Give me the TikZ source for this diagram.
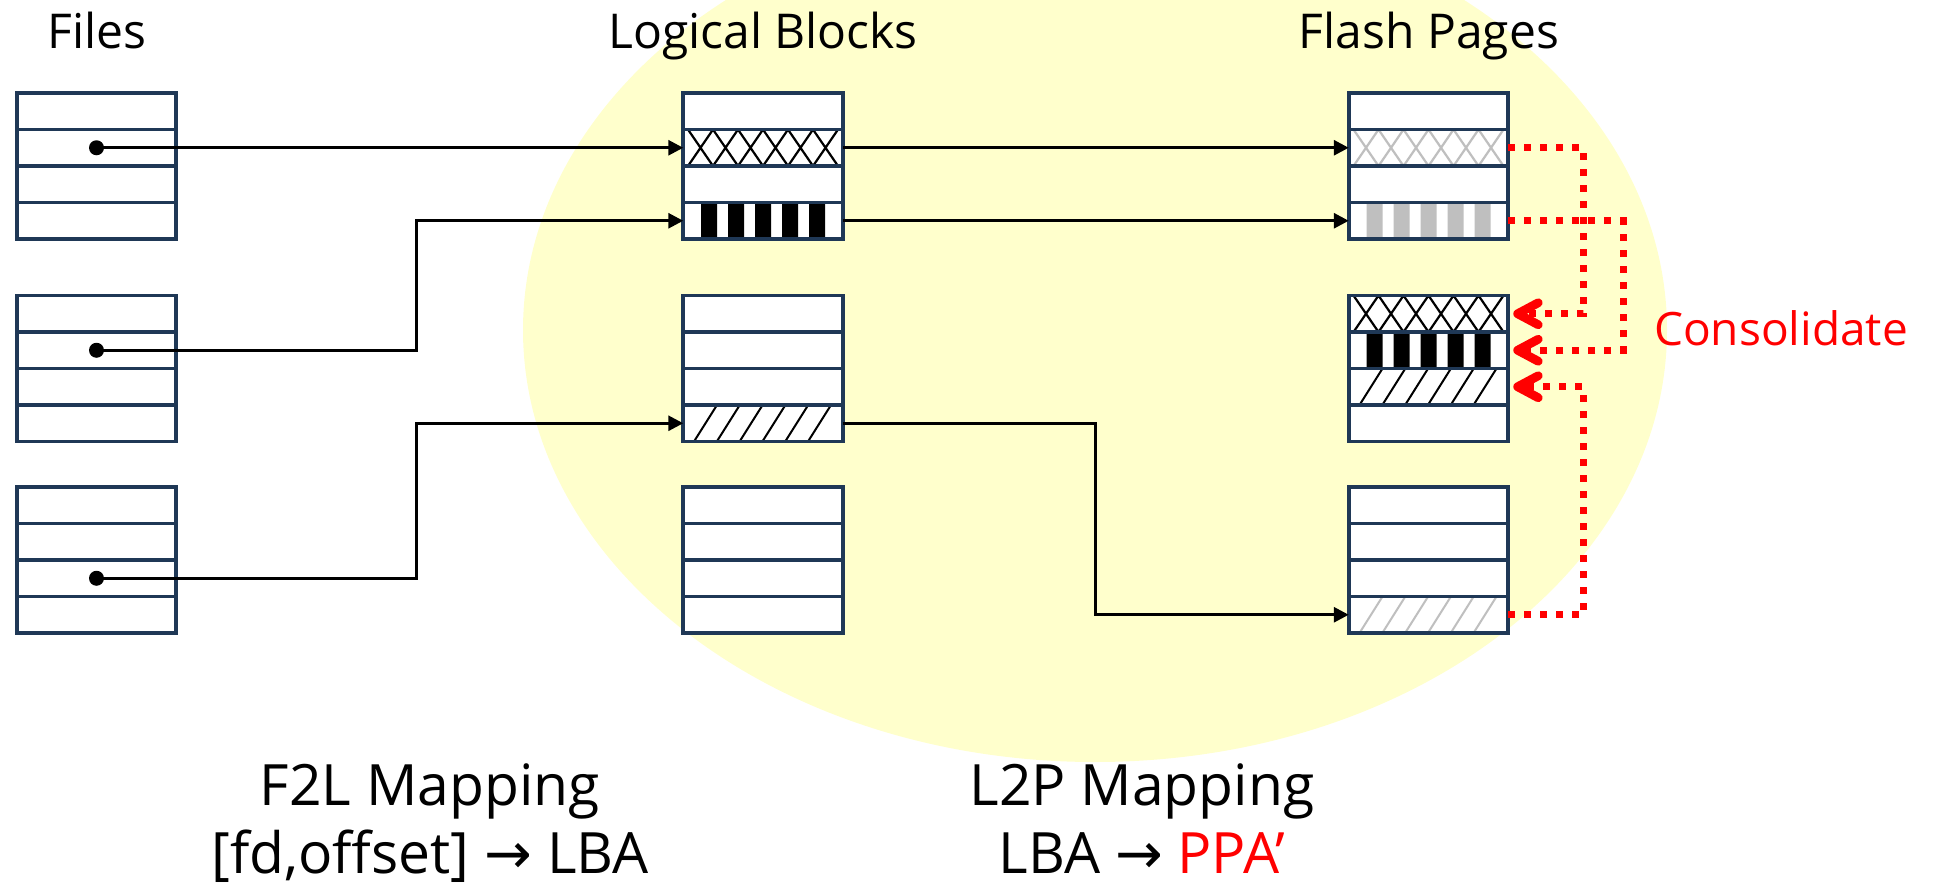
\documentclass[tikz,border=0pt]{standalone}
\usepackage{fontspec}
\setmainfont{Open Sans}
\newfontfamily\symfont{DejaVu Sans}
\usetikzlibrary{arrows.meta}

\definecolor{navy}{RGB}{31,56,86}
\definecolor{hatchgray}{RGB}{191,191,191}
\definecolor{haze}{RGB}{255,255,204}
\definecolor{alert}{RGB}{255,0,0}

\begin{document}
\begin{tikzpicture}[x=0.5pt,y=-0.5pt,
  cell/.style={rectangle, draw=navy, fill=white, line width=1.9pt,
    minimum width=79.75pt, minimum height=18.25pt, inner sep=0pt, outer sep=0pt},
  crossfill/.style={path picture={
    \begin{scope}[shift={(path picture bounding box.center)}]
      \draw[#1, line width=1.1pt, line join=round]
        (-75,-18.25)--(-50,18.25)--(-25,-18.25)--(0,18.25)--(25,-18.25)--(50,18.25)--(75,-18.25)
        (-75,18.25)--(-50,-18.25)--(-25,18.25)--(0,-18.25)--(25,18.25)--(50,-18.25)--(75,18.25);
    \end{scope}}},
  barfill/.style={path picture={
    \begin{scope}[shift={(path picture bounding box.center)}]
      \fill[#1] \foreach \i in {-54,-27,0,27,54} {(\i-8,-19) rectangle (\i+8,19)};
    \end{scope}}},
  diagfill/.style={path picture={
    \begin{scope}[shift={(path picture bounding box.center)}]
      \draw[#1, line width=1pt]
        \foreach \i in {0,...,5} {({-69+22.8*\i},18.25) -- ({-46+22.8*\i},-18.25)};
    \end{scope}}},
  pat L1r2/.style={crossfill=black},
  pat L1r4/.style={barfill=black},
  pat L2r4/.style={diagfill=black},
  pat P1r2/.style={crossfill=hatchgray},
  pat P1r4/.style={barfill=hatchgray},
  pat P2r1/.style={crossfill=black},
  pat P2r2/.style={barfill=black},
  pat P2r3/.style={diagfill=black},
  pat P3r4/.style={diagfill=hatchgray},
  conn/.style={line width=1.5pt, -{Triangle[length=7.5pt,width=7.5pt]}},
  moveconn/.style={alert, line width=3.5pt, dash pattern=on 3.5pt off 4.5pt,
    line join=miter, shorten >=7pt},
  chev/.style={alert, line width=4.4pt, line cap=round, line join=round},
  head/.style={font=\fontsize{24}{28}\selectfont, inner sep=0pt, anchor=base},
  caption/.style={font=\fontsize{28.5}{34}\selectfont, inner sep=0pt, anchor=base}
]
\useasboundingbox (0,0) rectangle (1938,885);
\clip (0,0) rectangle (1938,885);

% yellow region around the storage layer
\fill[haze] (1095,330) ellipse [x radius=286pt, y radius=216pt];

% column headings
\node[head] (hFiles) at (97,48) {Files};
\node[head] (hLog) at (763,48) {Logical Blocks};
\node[head] (hFlash) at (1429,48) {Flash Pages};

% three columns of three blocks, four rows each
\foreach \cc/\cx in {F/96.5,L/763,P/1428.5}{
  \foreach \bb/\tp in {1/93,2/295.5,3/487}{
    \foreach \rr in {1,...,4}{
      \node[cell, pat \cc\bb r\rr/.try] (\cc\bb r\rr) at (\cx,{\tp+36.5*(\rr-0.5)}) {};
    }}}

% bend points of the routed connectors
\coordinate (jogA) at (416,0);
\coordinate (jogB) at (1095,0);
\coordinate (jogC) at (1583,0);
\coordinate (jogD) at (1623,0);

% file offsets -> logical blocks
\fill (F1r2.center) circle [radius=3.75pt];
\fill (F2r2.center) circle [radius=3.75pt];
\fill (F3r3.center) circle [radius=3.75pt];
\draw[conn] (F1r2.center) -- (L1r2.west);
\draw[conn] (F2r2.center) -| (jogA |- L1r4) -- (L1r4.west);
\draw[conn] (F3r3.center) -| (jogA |- L2r4) -- (L2r4.west);

% logical blocks -> flash pages
\draw[conn] (L1r2.east) -- (P1r2.west);
\draw[conn] (L1r4.east) -- (P1r4.west);
\draw[conn] (L2r4.east) -| (jogB |- P3r4) -- (P3r4.west);

% consolidation moves
\draw[moveconn] (P1r2.east) -| (jogC |- P2r1) -- (P2r1.east);
\draw[moveconn] (P1r4.east) -| (jogD |- P2r2) -- (P2r2.east);
\draw[moveconn] (P3r4.east) -| (jogC |- P2r3) -- (P2r3.east);
% open chevron heads of the moves
\foreach \tg in {P2r1,P2r2,P2r3}
  \draw[chev] ([shift={(15pt,5.5pt)}]\tg.east) -- ([shift={(4.7pt,0pt)}]\tg.east)
              -- ([shift={(15pt,-5.5pt)}]\tg.east);

\node[head, font=\fontsize{23}{27}\selectfont, text=alert] (cons) at (1781,345) {Consolidate};

% mapping captions
\node[caption] (f2l) at (430,805) {F2L Mapping};
\node[caption] (f2lx) at (430,873) {[fd,offset] {\symfont →} LBA};
\node[caption] (l2p) at (1142,805) {L2P Mapping};
\node[caption] (l2px) at (1142,873) {LBA {\symfont →} \textcolor{alert}{PPA’}};
\end{tikzpicture}
\end{document}
